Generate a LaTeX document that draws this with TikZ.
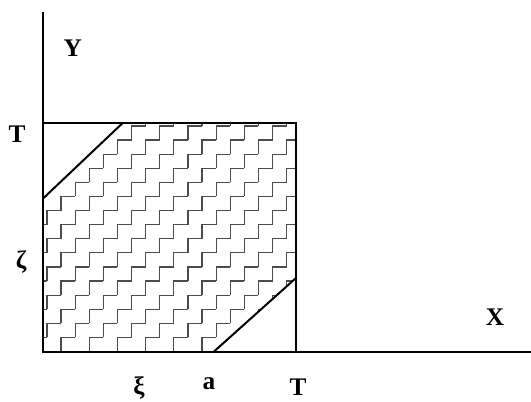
\documentclass[tikz,border=0pt]{standalone}
\usepackage{fontspec}
\setmainfont{Liberation Serif}
\usepackage{tikz}
\usetikzlibrary{positioning,calc}

\begin{document}
\begin{tikzpicture}[x=0.75pt, y=0.75pt, line width=1.5pt,
    lbl/.style={font=\fontsize{19}{21}\selectfont\bfseries, inner sep=0pt},
    stair/.style={line width=0.9pt, draw=black!70}]
  \useasboundingbox (-42.5,-49.5) rectangle (488.5,351.5);
  \coordinate (O) at (0,0);
  \coordinate (xend) at (488.5,0);
  \coordinate (yend) at (0,339.5);
  \coordinate (TT) at (253.5,228.5);
  \coordinate (Tx) at (253.5,0);
  \coordinate (Ty) at (0,228.5);
  \coordinate (a) at (171.5,0);
  \coordinate (aT) at (253.5,73.5);
  \coordinate (z) at (0,152.5);
  \coordinate (zT) at (80.2,228.5);

  \begin{scope}
    \clip (O) -- (a) -- (aT) -- (TT) -- (zT) -- (z) -- cycle;
    \foreach \j in {-9,...,8}
      \foreach \m in {0,...,16}
        \draw[stair] ({18.5+28.2*\j+14.1*\m},{14.1*\m}) -- ++(0,14.1) -- ++(14.1,0);
  \end{scope}

  \draw (yend) -- (O) -- (xend);
  \draw (Ty) -- (TT) -- (Tx);
  \draw (z) -- (zT);
  \draw (a) -- (aT);

  \node[lbl] (ylab) at (30.2,303.2) {Y};
  \node[lbl] (xlab) at (452.5,34.5) {X};
  \node[lbl] (tleft) at (-25.5,217.5) {T};
  \node[lbl] (tbot) at (255.5,-35.5) {T};
  \node[lbl] (zeta) at (-21.5,89.5) {ζ};
  \node[lbl] (xi) at (96.5,-36.5) {ξ};
  \node[lbl] (alab) at (166.5,-32.5) {a};
\end{tikzpicture}
\end{document}
